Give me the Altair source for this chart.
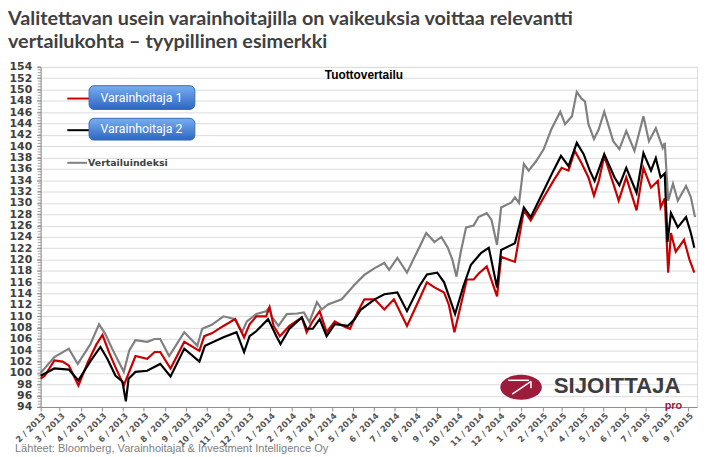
import altair as alt
import pandas as pd

# ---------------- data ----------------
series_names = ["Varainhoitaja 1", "Varainhoitaja 2", "Vertailuindeksi"]
series_colors = ["#c80000", "#000000", "#808080"]

gray_dates = ["2013-02-01","2013-02-21","2013-03-14","2013-03-27","2013-04-14","2013-04-27","2013-05-06","2013-05-16","2013-06-02","2013-06-10","2013-06-19","2013-07-06","2013-07-17","2013-07-25","2013-08-07","2013-08-29","2013-09-17","2013-09-24","2013-10-08","2013-10-25","2013-11-11","2013-11-21","2013-11-28","2013-12-12","2013-12-26","2013-12-31","2014-01-03","2014-01-13","2014-01-25","2014-02-09","2014-02-19","2014-02-27","2014-03-10","2014-03-17","2014-03-26","2014-04-15","2014-05-04","2014-05-18","2014-06-02","2014-06-16","2014-06-23","2014-07-05","2014-07-19","2014-08-06","2014-08-16","2014-08-28","2014-09-07","2014-09-16","2014-09-23","2014-09-29","2014-10-05","2014-10-13","2014-10-24","2014-10-31","2014-11-12","2014-11-19","2014-11-27","2014-12-03","2014-12-18","2014-12-23","2014-12-29","2015-01-05","2015-01-12","2015-01-23","2015-02-03","2015-02-14","2015-02-27","2015-03-06","2015-03-16","2015-03-23","2015-03-30","2015-04-04","2015-04-09","2015-04-17","2015-04-24","2015-05-02","2015-05-15","2015-05-24","2015-06-03","2015-06-15","2015-06-28","2015-07-06","2015-07-16","2015-07-26","2015-07-29","2015-08-03","2015-08-10","2015-08-17","2015-08-29","2015-09-05","2015-09-11"]
gray_vals = [100.0,102.8,104.3,101.6,105.0,108.6,106.9,104.3,100.2,104.0,105.8,105.5,106.0,106.0,103.0,107.2,104.8,107.8,108.5,110.0,109.5,107.2,109.1,110.4,110.9,111.6,110.0,108.3,110.4,110.5,110.7,109.0,112.5,111.2,112.1,113.0,115.6,117.3,118.5,119.4,118.2,120.3,117.7,122.2,124.7,123.1,124.0,122.2,120.0,117.0,121.2,125.7,126.0,127.5,128.2,127.0,122.6,129.2,130.1,131.0,130.0,136.9,135.7,137.4,139.5,143.0,146.1,143.9,145.3,149.6,148.4,147.9,143.9,141.3,143.0,146.1,140.9,139.5,142.7,139.2,145.3,140.9,143.2,139.7,140.6,130.4,133.4,130.4,133.0,131.0,127.5]

red_dates = ["2013-02-01","2013-02-07","2013-02-21","2013-03-05","2013-03-14","2013-03-28","2013-04-11","2013-04-23","2013-05-02","2013-05-12","2013-05-21","2013-06-02","2013-06-19","2013-07-06","2013-07-17","2013-07-25","2013-08-09","2013-08-29","2013-09-20","2013-09-27","2013-10-08","2013-10-25","2013-11-11","2013-11-24","2013-12-02","2013-12-12","2013-12-26","2013-12-31","2014-01-06","2014-01-15","2014-01-29","2014-02-16","2014-02-23","2014-03-03","2014-03-14","2014-03-24","2014-04-05","2014-04-20","2014-04-27","2014-05-08","2014-05-18","2014-06-02","2014-06-16","2014-06-30","2014-07-19","2014-08-06","2014-08-17","2014-08-28","2014-09-11","2014-09-18","2014-09-26","2014-10-05","2014-10-14","2014-10-24","2014-10-31","2014-11-12","2014-11-27","2014-12-03","2014-12-23","2015-01-05","2015-01-15","2015-02-03","2015-02-17","2015-03-01","2015-03-11","2015-03-20","2015-03-30","2015-04-09","2015-04-17","2015-04-24","2015-05-02","2015-05-17","2015-05-23","2015-06-03","2015-06-18","2015-06-28","2015-07-09","2015-07-19","2015-07-23","2015-07-29","2015-08-03","2015-08-07","2015-08-14","2015-08-26","2015-09-03","2015-09-10"]
red_vals = [99.0,99.5,102.2,102.0,101.3,97.8,102.0,105.0,106.7,103.5,101.0,97.8,103.0,102.5,103.7,103.7,100.8,105.5,103.9,106.5,107.0,108.3,109.5,106.3,108.6,110.0,110.0,111.6,108.3,106.5,108.3,109.8,107.2,109.0,110.9,107.2,109.1,108.1,107.8,110.7,113.0,113.0,111.2,113.0,108.3,113.0,116.0,115.1,114.2,112.0,107.2,111.8,116.5,116.5,117.5,118.8,113.5,120.5,119.6,128.7,126.9,131.0,133.9,136.2,135.7,139.2,137.0,134.5,131.3,133.9,138.3,132.7,130.4,134.5,128.7,136.2,132.7,133.9,129.2,130.8,117.7,124.7,121.4,123.5,120.0,117.7]

black_dates = ["2013-02-01","2013-02-21","2013-03-14","2013-03-28","2013-04-14","2013-04-29","2013-05-09","2013-05-21","2013-05-31","2013-06-05","2013-06-09","2013-06-19","2013-07-06","2013-07-25","2013-08-09","2013-08-29","2013-09-20","2013-09-28","2013-10-25","2013-11-13","2013-11-24","2013-12-02","2013-12-12","2013-12-29","2014-01-10","2014-01-16","2014-01-29","2014-02-16","2014-02-23","2014-03-04","2014-03-14","2014-03-24","2014-04-05","2014-04-24","2014-05-04","2014-05-13","2014-06-02","2014-06-16","2014-07-05","2014-07-19","2014-08-06","2014-08-17","2014-09-01","2014-09-11","2014-09-27","2014-10-09","2014-10-20","2014-11-04","2014-11-15","2014-11-27","2014-12-03","2014-12-23","2015-01-05","2015-01-15","2015-02-03","2015-02-17","2015-02-28","2015-03-11","2015-03-23","2015-04-02","2015-04-11","2015-04-18","2015-05-02","2015-05-17","2015-05-24","2015-06-03","2015-06-18","2015-06-28","2015-07-09","2015-07-16","2015-07-23","2015-07-29","2015-08-02","2015-08-07","2015-08-17","2015-08-29","2015-09-05","2015-09-10"]
black_vals = [99.5,100.8,100.6,98.7,102.0,104.6,102.5,99.5,98.5,95.0,99.0,100.2,100.4,101.6,99.4,104.3,102.0,104.8,106.3,107.2,103.7,106.5,107.4,109.5,106.5,105.1,107.8,109.8,107.8,107.8,109.5,106.5,108.6,108.3,109.5,111.2,113.0,113.9,114.2,110.9,115.3,117.4,117.7,116.0,110.4,115.3,119.1,121.2,122.1,115.1,121.7,122.9,129.2,127.5,132.2,135.7,138.3,136.5,140.6,138.6,135.7,133.9,138.6,134.5,133.1,136.2,131.8,138.8,135.7,137.9,134.5,135.2,123.1,128.2,125.7,127.5,124.7,122.1]

y_ticks = list(range(94, 155, 2))
month_ticks = pd.date_range("2013-02-01", "2015-09-01", freq="MS")

title_lines = ["Valitettavan usein varainhoitajilla on vaikeuksia voittaa relevantti",
               "vertailukohta – tyypillinen esimerkki"]
chart_title = "Tuottovertailu"
source_text = "Lähteet: Bloomberg, Varainhoitajat & Investment Intelligence Oy"

# ---------------- scales & axes ----------------
W, H = 664, 344
x_scale = alt.Scale(type="utc", domain=[alt.DateTime(year=2013, month=2, date=1, utc=True),
                                        alt.DateTime(year=2015, month=9, date=14, utc=True)])
y_scale = alt.Scale(domain=[94, 154], nice=False, zero=False)

x_axis = alt.Axis(values=[alt.DateTime(year=d.year, month=d.month, date=1, utc=True) for d in month_ticks],
                  labelExpr="utcFormat(datum.value, '%-m / %Y')", labelAngle=-45,
                  labelFont="DejaVu Sans", labelFontWeight="bold", labelFontSize=8.4,
                  labelColor="#555555", tickSize=4, tickColor="#8c8c8c", domainColor="#8c8c8c",
                  grid=False, labelPadding=0, title=None, labelOverlap=False,
                  labelBound=False, labelFlush=False)
y_axis = alt.Axis(values=y_ticks, labelFont="DejaVu Sans", labelFontWeight="bold", labelFontSize=11,
                  labelColor="#404040", tickSize=4, tickColor="#8c8c8c", domainColor="#8c8c8c",
                  grid=True, gridColor="#dcdcdc", title=None, labelPadding=5,
                  labelOverlap=False, labelFlush=False)

minor_df = pd.DataFrame({"value": [94 + 0.5 * i for i in range(121)]})
minor = alt.Chart(minor_df).mark_rule(color="#8c8c8c", strokeWidth=0.8).encode(
    y=alt.Y("value:Q", scale=y_scale, axis=y_axis), x=alt.value(-3), x2=alt.value(0))


def line_layer(dates, vals, color):
    df = pd.DataFrame({"date": dates, "value": vals})
    return alt.Chart(df).mark_line(color=color, strokeWidth=2.2).encode(
        x=alt.X("date:T", scale=x_scale, axis=x_axis),
        y=alt.Y("value:Q", scale=y_scale, axis=y_axis),
    )


gray_line = line_layer(gray_dates, gray_vals, series_colors[2])
red_line = line_layer(red_dates, red_vals, series_colors[0])
black_line = line_layer(black_dates, black_vals, series_colors[1])

one = pd.DataFrame({"a": [0]})


def text_at(txt, x, y, **kw):
    return alt.Chart(pd.DataFrame({"t": [txt]})).mark_text(**kw).encode(
        x=alt.value(x), y=alt.value(y), text="t:N")


def seg(x1, y1, x2, y2, color, w):
    return alt.Chart(one).mark_rule(color=color, strokeWidth=w).encode(
        x=alt.value(x1), y=alt.value(y1), x2=alt.value(x2), y2=alt.value(y2))


# title
t1 = text_at(title_lines[0], -33, -42, align="left", baseline="alphabetic", font="Lato",
             fontWeight="bold", fontSize=20, color="#404040")
t2 = text_at(title_lines[1], -33, -19.5, align="left", baseline="alphabetic", font="Lato",
             fontWeight="bold", fontSize=20, color="#404040")
ct = text_at(chart_title, 327, 8, align="center", baseline="middle", font="Liberation Sans",
             fontWeight="bold", fontSize=12, color="#000000")
src = text_at(source_text, -26, 390, align="left", baseline="alphabetic", font="Liberation Sans",
              fontSize=11.2, color="#808080")

# legend
grad = alt.LinearGradient(gradient="linear", x1=0, x2=0, y1=0, y2=1,
                          stops=[alt.GradientStop(offset=0, color="#79aef0"),
                                 alt.GradientStop(offset=1, color="#2c66c2")])


def button(y1, y2):
    return alt.Chart(one).mark_rect(cornerRadius=5, color=grad, stroke="#3a6cb8", strokeWidth=1).encode(
        x=alt.value(49), x2=alt.value(156), y=alt.value(y1), y2=alt.value(y2))


leg = [
    seg(27, 32, 49, 32, series_colors[0], 2),
    button(19, 43),
    text_at(series_names[0], 102, 31, align="center", baseline="middle", font="Roboto",
            fontSize=12.5, color="white"),
    seg(27, 64, 49, 64, series_colors[1], 2),
    button(52, 74),
    text_at(series_names[1], 102, 63, align="center", baseline="middle", font="Roboto",
            fontSize=12.5, color="white"),
    seg(27, 97, 47, 97, series_colors[2], 2),
    text_at(series_names[2], 48, 97, align="left", baseline="middle", font="DejaVu Sans",
            fontWeight="bold", fontSize=9.5, color="#404040"),
]

# logo
ellipse = alt.Chart(one).mark_point(
    shape="M-1,0A1,0.6,0,1,1,1,0A1,0.6,0,1,1,-1,0Z", size=1764, filled=True,
    color="#9e1b3c", opacity=1).encode(x=alt.value(486), y=alt.value(324))
logo = [
    ellipse,
    seg(473, 317, 494, 317, "white", 1.5),
    seg(477, 331, 496, 318, "white", 1.5),
    seg(496, 318, 496, 325, "white", 1.5),
    text_at("SIJOITTAJA", 519, 330, align="left", baseline="alphabetic", font="Liberation Sans",
            fontWeight="bold", fontSize=22.5, color="#3d3d3d"),
    text_at("pro", 649, 346, align="right", baseline="alphabetic", font="Liberation Sans",
            fontWeight="bold", fontSize=11, color="#9e1b3c"),
]

chart = alt.layer(
    minor, gray_line, red_line, black_line, t1, t2, ct, src, *leg, *logo
).properties(
    width=W, height=H,
    autosize=alt.AutoSizeParams(type="none"),
    padding={"left": 33, "top": 57, "right": 5, "bottom": 50},
).configure_view(stroke=None).configure(background="white")

chart.save("out.html", embed_options={"renderer": "svg", "actions": False})
